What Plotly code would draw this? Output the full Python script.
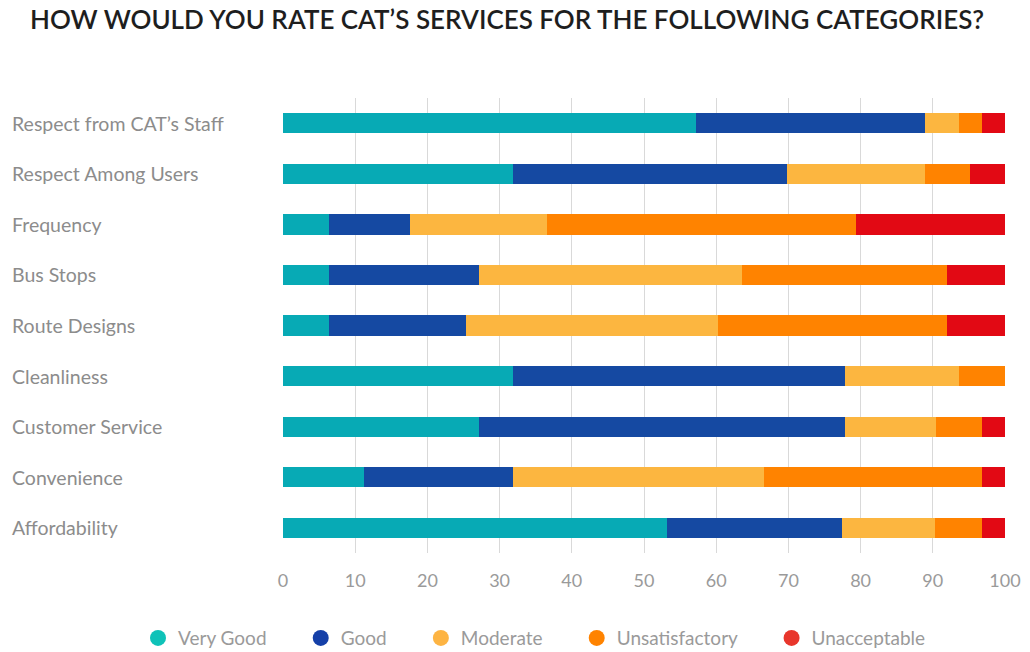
import plotly.graph_objects as go

categories = ["Respect from CAT’s Staff", "Respect Among Users", "Frequency", "Bus Stops",
              "Route Designs", "Cleanliness", "Customer Service", "Convenience", "Affordability"]
series_names = ["Very Good", "Good", "Moderate", "Unsatisfactory", "Unacceptable"]
very_good = [57.2, 31.8, 6.4, 6.4, 6.4, 31.8, 27.1, 11.2, 53.2]
good = [31.7, 38.0, 11.2, 20.7, 18.9, 46.0, 50.7, 20.6, 24.2]
moderate = [4.7, 19.1, 19.0, 36.5, 35.0, 15.8, 12.6, 34.8, 12.9]
unsatisfactory = [3.2, 6.3, 42.8, 28.4, 31.7, 6.4, 6.4, 30.2, 6.5]
unacceptable = [3.2, 4.8, 20.6, 8.0, 8.0, 0.0, 3.2, 3.2, 3.2]
x_ticks = [0, 10, 20, 30, 40, 50, 60, 70, 80, 90, 100]

colors = ["#07aab5", "#1549a2", "#fcb640", "#ff8300", "#e20914"]
legend_colors = ["#0fc2b8", "#1540a8", "#fdb443", "#ff8300", "#e8362c"]

fig = go.Figure()
for name, vals, c in zip(series_names, [very_good, good, moderate, unsatisfactory, unacceptable], colors):
    fig.add_trace(go.Bar(y=categories, x=vals, orientation="h", name=name,
                         marker=dict(color=c, line=dict(width=0)), showlegend=False))
pad = "\u00a0" * 6
for i, (name, c) in enumerate(zip(series_names, legend_colors)):
    label = name + (pad if i < len(series_names) - 1 else "")
    fig.add_trace(go.Scatter(x=[None], y=[None], mode="markers", name=label,
                             marker=dict(symbol="circle", size=16, color=c)))

font_family = "Lato, 'Open Sans', sans-serif"
fig.update_layout(
    barmode="stack",
    bargap=0.6,
    width=1030, height=652,
    margin=dict(l=283, r=25, t=98, b=99, autoexpand=False),
    paper_bgcolor="white", plot_bgcolor="white",
    font=dict(family=font_family, color="#8c8c8c", size=17),
    title=dict(text="HOW WOULD YOU RATE CAT’S SERVICES FOR THE FOLLOWING CATEGORIES?",
               x=30 / 1030, xanchor="left", y=1 - 20 / 652, yanchor="middle",
               font=dict(family=font_family, size=26, color="#1e1e1e", weight=600)),
    xaxis=dict(range=[0, 100], tickvals=x_ticks, showgrid=True, gridcolor="#d9d9d9",
               gridwidth=1, zeroline=False, showline=False, ticks="outside",
               ticklen=11, tickcolor="rgba(0,0,0,0)",
               tickfont=dict(size=18, color="#9a9a9a")),
    yaxis=dict(autorange="reversed", showticklabels=False, showgrid=False, zeroline=False,
               categoryorder="array", categoryarray=categories),
    legend=dict(orientation="h", x=(138 - 283) / 722, xanchor="left",
                y=-0.187, yanchor="middle", font=dict(size=19, color="#9a9a9a"),
                itemsizing="trace", bgcolor="rgba(0,0,0,0)", traceorder="normal"),
    showlegend=True,
)

for cat in categories:
    fig.add_annotation(x=(10 - 283) / 722, xref="paper", y=cat, yref="y", text=cat,
                       showarrow=False, xanchor="left", yanchor="middle",
                       font=dict(size=19.5, color="#8c8c8c", family=font_family))

fig.write_html("out.html")
